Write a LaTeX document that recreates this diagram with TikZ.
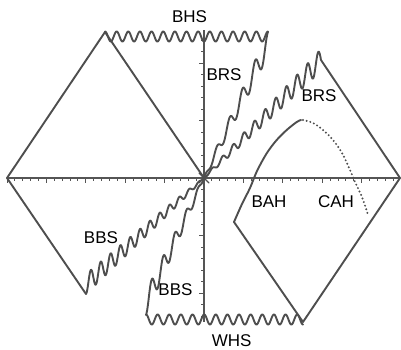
\documentclass[tikz,border=0pt]{standalone}
\usepackage{fontspec}
\setmainfont{Liberation Sans}
\definecolor{linegray}{RGB}{78,78,78}
\definecolor{axisgray}{RGB}{85,85,85}
\begin{document}
\begin{tikzpicture}[x=1pt,y=-1pt,
  curve/.style={draw=linegray, line width=1.9pt, line join=round, line cap=round},
  dotcurve/.style={draw=linegray, line width=2.2pt, line cap=round, dash pattern=on 0pt off 3.8pt},
  axisline/.style={draw=axisgray, line width=1.3pt},
  tickmark/.style={draw=axisgray, line width=0.9pt},
  lbl/.style={font=\fontsize{17}{17}\selectfont, inner sep=0pt, text=black}]
\useasboundingbox (0,0) rectangle (401,349);
% named points
\coordinate (L) at (7,178);
\coordinate (TL) at (105,32);
\coordinate (O) at (204,178);
\coordinate (R) at (400,178);
\coordinate (BR) at (303,322);
\coordinate (BA) at (234,222);
\coordinate (LL) at (86,294);
\coordinate (E2) at (321,60);
\coordinate (AX1) at (204,30);
\coordinate (AX2) at (204,322);
% axes
\draw[axisline] (L) -- (R);
\draw[axisline] (AX1) -- (AX2);
\foreach \k in {-25,...,25}{
  \pgfmathsetmacro\tl{ifthenelse(mod(\k,5)==0,5,2.5)}
  \draw[tickmark] ({204+7.88*\k},178) -- ++(0,\tl);
}
\foreach \k in {-12,...,12}{
  \pgfmathsetmacro\tl{ifthenelse(mod(\k,5)==0,5,3.5)}
  \draw[tickmark] (204,{178+11.5*\k}) -- ++(-\tl,0);
}
% straight boundaries
\draw[curve] (LL) -- (L) -- (TL) -- (O);
\draw[curve] (E2) -- (R) -- (BR) -- (BA);
\draw[curve, line width=1.2pt] (199,173) -- (209,183) (199,183) -- (209,173);
% horizon wiggles
\draw[curve] plot[domain=105:268, samples=400, variable=\x] ({\x},{36.5-5*cos((\x-105)/163*5040)});
\draw[curve] plot[domain=146:303, samples=400, variable=\x] ({\x},{319.5-5*cos((\x-146)/157*4860)});
% BRS wiggles
\draw[curve] (O) -- plot[domain=0.002:1, samples=400, variable=\t] ({204+64*\t},{178-134*\t-12*\t^0.6*cos(1800*\t)});
\draw[curve] (O) -- plot[domain=0.002:1, samples=400, variable=\t] ({204+117*\t},{178-118*\t+11*\t^0.7*sin(3960*\t)});
% BBS wiggles
\draw[curve] (O) -- plot[domain=0.002:1, samples=400, variable=\t] ({204-118*\t},{178+106*\t+10*\t^0.7*cos(4320*\t)});
\draw[curve] (O) -- plot[domain=0.002:1, samples=400, variable=\t] ({204-58*\t},{178+125*\t+12*\t^0.6*cos(1800*\t)});
% BAH / CAH curve
\draw[curve] plot[smooth, tension=0.55] coordinates {(BA) (242,204) (250,188) (257,171) (266.7,153.3) (276.7,140) (286.7,130) (296.7,122) (301,120)};
\draw[dotcurve] plot[smooth, tension=0.6] coordinates {(303,120) (313,123) (323,130) (333,140) (342,153) (350,170) (355,182) (362,197) (368,215)};
% labels
\node[lbl] (bhs) at (189.5,17) {BHS};
\node[lbl] (brs1) at (224,75) {BRS};
\node[lbl] (brs2) at (319,96) {BRS};
\node[lbl] (bah) at (269,202) {BAH};
\node[lbl] (cah) at (336,202) {CAH};
\node[lbl] (bbs1) at (101,237.5) {BBS};
\node[lbl] (bbs2) at (175.5,289.7) {BBS};
\node[lbl] (whs) at (231.7,340.5) {WHS};
\end{tikzpicture}
\end{document}
